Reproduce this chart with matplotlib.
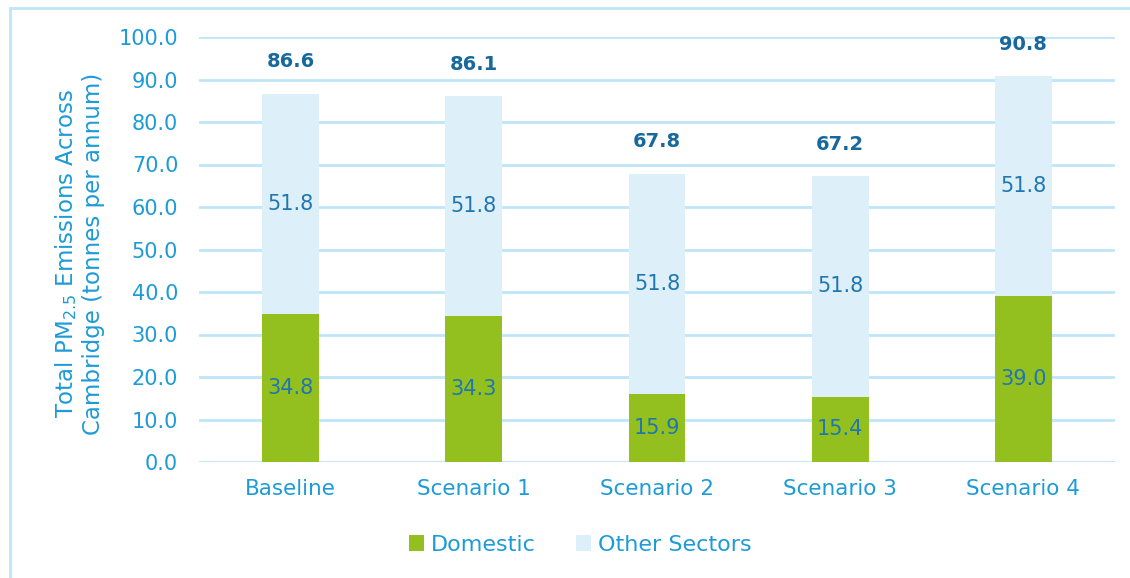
import matplotlib
matplotlib.use("Agg")
import matplotlib.pyplot as plt
from matplotlib.patches import Rectangle

categories = ["Baseline", "Scenario 1", "Scenario 2", "Scenario 3", "Scenario 4"]
domestic = [34.8, 34.3, 15.9, 15.4, 39.0]
other = [51.8, 51.8, 51.8, 51.8, 51.8]
totals = [86.6, 86.1, 67.8, 67.2, 90.8]

GREEN = "#93c01f"
PALE = "#ddeff9"
GRID = "#bde6f8"
TICK = "#1d9bd7"
LABEL = "#1f77b0"
TOTAL = "#17699b"

plt.rcParams["font.family"] = ["DejaVu Sans"]

fig = plt.figure(figsize=(11.3, 5.78), dpi=100)
fig.patches.append(Rectangle((10 / 1130, -0.1), 1.2, 1 - 8 / 578 + 0.1,
                             transform=fig.transFigure, fill=False,
                             edgecolor=GRID, linewidth=2))

ax = fig.add_axes([199 / 1130, 1 - 462 / 578, 916 / 1130, 425 / 578])
x = range(len(categories))
width = 0.31
ax.bar(x, domestic, width, color=GREEN, label="Domestic", zorder=3)
ax.bar(x, other, width, bottom=domestic, color=PALE, label="Other Sectors", zorder=3)

for i in x:
    ax.text(i, domestic[i] / 2, f"{domestic[i]:.1f}", ha="center", va="center",
            color=LABEL, fontsize=15, zorder=4)
    ax.text(i, domestic[i] + other[i] / 2, f"{other[i]:.1f}", ha="center", va="center",
            color=LABEL, fontsize=15, zorder=4)
    ax.text(i, totals[i] + 5.3, f"{totals[i]:.1f}", ha="center", va="bottom",
            color=TOTAL, fontsize=14, fontweight="bold", zorder=4)

ax.set_xlim(-0.5, len(categories) - 0.5)
ax.set_ylim(0, 100)
ax.set_yticks(range(0, 101, 10))
ax.set_yticklabels([f"{v:.1f}" for v in range(0, 101, 10)])
ax.set_xticks(list(x))
ax.set_xticklabels(categories)
ax.tick_params(axis="both", length=0, colors=TICK, labelsize=15)
ax.tick_params(axis="y", pad=15)
ax.tick_params(axis="x", pad=12, labelsize=15.5)
ax.grid(axis="y", color=GRID, linewidth=2, zorder=0)
for s in ax.spines.values():
    s.set_visible(False)

fig.text(79 / 1130, 1 - 254 / 578,
         "Total PM$_{2.5}$ Emissions Across\nCambridge (tonnes per annum)",
         rotation=90, ha="center", va="center", color=TICK, fontsize=16.5,
         linespacing=1.15)

leg = fig.legend(loc="center", bbox_to_anchor=(580 / 1130, 1 - 545 / 578), ncol=2,
                 frameon=False, fontsize=16, handlelength=0.7, handleheight=0.7,
                 handletextpad=0.3, columnspacing=1.8)
for t in leg.get_texts():
    t.set_color(TICK)

fig.savefig("out.png", dpi=100)
